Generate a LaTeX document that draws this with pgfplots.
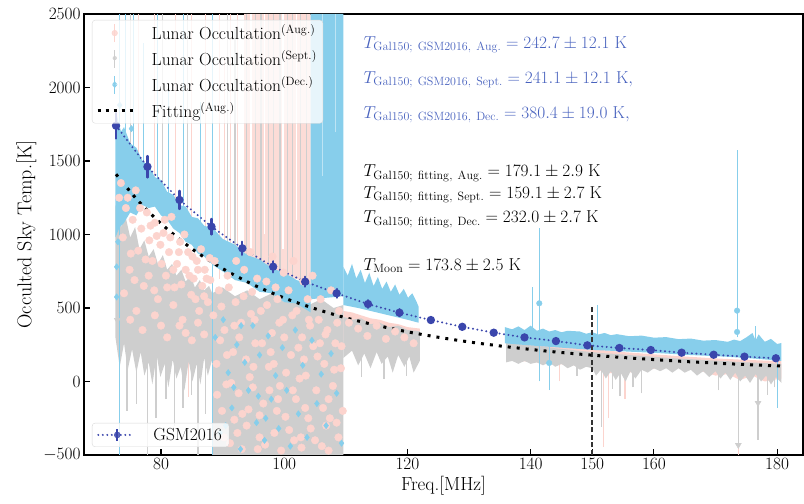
\documentclass[border=0pt]{standalone}
\usepackage{pgfplots}
\pgfplotsset{compat=1.18}
\definecolor{pinkc}{RGB}{252,212,206}
\definecolor{pinkl}{RGB}{252,220,215}
\definecolor{grayc}{RGB}{206,206,206}
\definecolor{bluec}{RGB}{135,206,235}
\definecolor{gsmc}{RGB}{58,70,172}
\definecolor{tblue}{RGB}{72,98,190}
\begin{document}
\begin{tikzpicture}
\begin{axis}[name=ax, scale only axis, width=719pt, height=441pt,
  xmin=67.5, xmax=184.2, ymin=-500, ymax=2500,
  xtick={80,100,120,140,150,160,180}, ytick={-500,0,500,1000,1500,2000,2500},
  /pgf/number format/1000 sep={},
  tick align=inside, xtick pos=bottom, ytick pos=left, major tick length=6pt,
  tick style={line width=1.1pt, black},
  axis line style={line width=1.1pt},
  tick label style={font=\fontsize{17}{20}\selectfont},
  xlabel={Freq.[MHz]}, ylabel={Occulted Sky Temp.[K]},
  xlabel style={font=\fontsize{19}{22}\selectfont},
  ylabel style={font=\fontsize{20}{23}\selectfont},
  unbounded coords=jump,
  legend style={at={(0,1)}, anchor=north west, xshift=8pt, yshift=-6pt,
    draw=black!15, fill=white, fill opacity=0.8, text opacity=1, rounded corners=3pt,
    font=\fontsize{17.5}{20}\selectfont, inner xsep=4pt, inner ysep=2.5pt, row sep=5pt},
  legend cell align=left,
]
% ---------- pink (Aug.) areas ----------
\addplot[fill=pinkc, draw=none, forget plot] coordinates {(109.6,480) (111,470) (112.5,450) (114,430) (115.5,420) (117,400) (118.5,390) (120,370) (122,360) (122,200) (120,210) (118,230) (116,220) (114,250) (112,240) (109.6,260)} -- cycle;
\addplot[fill=pinkc, draw=none, forget plot] coordinates {(136,290) (140,265) (145,240) (150,220) (155,200) (160,185) (165,170) (170,157) (175,147) (180.7,138) (180.7,20) (178,0) (176,40) (174,10) (172,50) (170,40) (167,80) (164,100) (161,90) (158,80) (155,50) (152,60) (150,100) (147,110) (144,120) (141,130) (138,140) (136,150)} -- cycle;
\addplot[fill=pinkl, draw=none, forget plot] coordinates {(93.5,800) (93.5,2500) (104.3,2500) (104.3,650) (102,700) (100,660) (98,720) (96,680) (94,760)} -- cycle;
\addplot[white, line width=1.2pt, forget plot] coordinates {(94.6,900) (94.6,2500) (94.6,nan) (96.8,1000) (96.8,2500) (96.8,nan) (99.8,900) (99.8,2500) (99.8,nan) (102.0,1100) (102.0,2500)};
\addplot[pinkc, line width=1.2pt, forget plot] coordinates {(76.4,1400) (76.4,2500) (76.4,nan) (78.9,1300) (78.9,2500) (78.9,nan) (82.3,1200) (82.3,2500) (82.3,nan) (85.0,1100) (85.0,2500) (85.0,nan) (87.2,1000) (87.2,2500) (87.2,nan) (89.5,700) (89.5,2500) (89.5,nan) (90.3,900) (90.3,2200) (90.3,nan) (91.3,800) (91.3,2500) (91.3,nan) (92.4,850) (92.4,2500) (92.4,nan) (84.4,-105) (84.4,400) (84.4,nan) (151.8,-443) (151.8,150) (151.8,nan) (152.6,-250) (152.6,120) (152.6,nan) (155.3,-120) (155.3,120) (155.3,nan) (173.7,-500) (173.7,0) (173.7,nan) (144.7,0) (144.7,150)};
% ---------- gray (Sept.) areas ----------
\addplot[fill=grayc, draw=none, forget plot] coordinates {(72.6,1200) (73.5,1050) (74.2,1130) (75,980) (75.8,1050) (76.5,900) (77.3,960) (78,850) (78.8,900) (79.5,800) (80.3,860) (81,760) (81.8,800) (82.5,720) (83.3,760) (84,680) (84.8,720) (85.5,640) (86.3,690) (87,620) (87.8,650) (88.3,600) (88.3,150) (87.6,40) (87,160) (86.4,-20) (85.8,120) (85.1,0) (84.5,140) (83.8,-60) (83.2,100) (82.5,20) (81.9,150) (81.2,-40) (80.6,120) (79.9,30) (79.3,180) (78.6,-20) (78,130) (77.3,40) (76.7,200) (76,60) (75.3,220) (74.6,80) (74,260) (73.3,100) (72.6,300)} -- cycle;
\addplot[fill=grayc, draw=none, forget plot] coordinates {(88.3,-500) (88.3,600) (90,640) (92,580) (94,620) (96,560) (98,600) (100,540) (102,580) (104,520) (106,560) (108,500) (109.6,520) (109.6,-500)} -- cycle;
\addplot[fill=grayc, draw=none, forget plot] coordinates {(109.6,440) (111,420) (112.5,430) (114,390) (115.5,400) (117,370) (118.5,380) (120,350) (121.5,345) (122,340) (122,140) (121,60) (120.3,170) (119.5,100) (118.5,180) (117.6,60) (116.8,170) (115.8,120) (115,200) (114,90) (113,190) (112,110) (111,210) (109.6,160)} -- cycle;
\addplot[fill=grayc, draw=none, forget plot] coordinates {(136,265) (138,255) (140,245) (142,238) (144,226) (146,218) (148,208) (150,200) (152,192) (154,187) (156,180) (158,174) (160,168) (162,162) (164,156) (166,152) (168,147) (170,142) (172,138) (174,132) (176,129) (178,125) (180.7,120) (180.7,-10) (179.8,30) (179,-20) (178.2,40) (177.4,0) (176.5,50) (175.6,-10) (174.8,40) (174,0) (173.2,60) (172.4,10) (171.6,60) (170.8,20) (170,70) (169,30) (168,70) (167,40) (166,80) (165,60) (164,90) (163,60) (162,90) (161,70) (160,90) (159,60) (158,80) (157,20) (156.2,70) (155.4,0) (154.6,60) (153.8,10) (153,70) (152.2,20) (151.4,80) (150.6,40) (150,90) (149,100) (148,80) (147,110) (146,90) (145,120) (144,100) (143,130) (142,110) (141,130) (140,120) (139,140) (138,120) (137,140) (136,130)} -- cycle;
\addplot[grayc, line width=1.4pt, forget plot] coordinates {(93.9,700) (93.9,2500) (93.9,nan) (95.3,650) (95.3,2500) (95.3,nan) (96.2,700) (96.2,2500) (96.2,nan) (97.4,650) (97.4,2500) (97.4,nan) (98.3,700) (98.3,2500) (98.3,nan) (99.3,650) (99.3,2500) (99.3,nan) (100.5,620) (100.5,2500) (100.5,nan) (101.3,650) (101.3,2500) (101.3,nan) (102.6,640) (102.6,2500) (102.6,nan) (103.6,600) (103.6,2500) (103.6,nan) (90.8,700) (90.8,2500) (90.8,nan) (92.0,750) (92.0,2400) (92.0,nan) (75.0,1500) (75.0,2500) (75.0,nan) (80.2,1300) (80.2,2500) (80.2,nan) (84.3,1100) (84.3,2500) (84.3,nan) (77.8,-500) (77.8,300) (77.8,nan) (86,-500) (86,200) (86,nan) (74.5,-200) (74.5,300) (74.5,nan) (76,-150) (76,250) (76,nan) (79.2,-250) (79.2,250) (79.2,nan) (80.8,-120) (80.8,250) (80.8,nan) (82.2,-300) (82.2,250) (82.2,nan) (83.6,-180) (83.6,250) (83.6,nan) (84.9,-90) (84.9,250) (84.9,nan) (87.2,-220) (87.2,250) (87.2,nan) (151.5,-307) (151.5,150) (151.5,nan) (153.3,-50) (153.3,150) (153.3,nan) (154.5,-100) (154.5,150) (154.5,nan) (156.6,-40) (156.6,130) (156.6,nan) (158,-80) (158,120) (158,nan) (170.5,-60) (170.5,100) (170.5,nan) (173.7,-432) (173.7,120) (173.7,nan) (176.9,-398) (176.9,120) (176.9,nan) (178.4,-90) (178.4,100) (178.4,nan) (179.6,-40) (179.6,100) (179.6,nan) (147.5,40) (147.5,150) (147.5,nan) (112.5,30) (112.5,200) (112.5,nan) (116.2,20) (116.2,200) (116.2,nan) (119.8,40) (119.8,200)};
\addplot[only marks, mark=triangle*, mark size=3.5pt, mark options={rotate=180}, grayc, forget plot] coordinates {(173.7,-432) (176.9,-146) (86.2,135) (72.9,418)};
% ---------- pink dots ----------
\addplot[only marks, mark=*, mark size=3.8pt, pinkc, forget plot] coordinates {(73.2,1250) (73.8,980) (74.3,1180) (74.9,760) (75.4,1100) (75.9,1300) (76.3,890) (76.8,1040) (77.2,650) (77.7,1150) (78.1,960) (78.6,820) (79.0,1080) (79.5,560) (79.9,930) (80.4,1010) (80.8,720) (81.3,880) (81.7,1120) (82.2,640) (82.6,800) (83.1,950) (83.5,420) (84.0,760) (84.4,880) (84.9,590) (85.3,700) (85.8,820) (86.2,480) (86.7,650) (87.1,760) (87.6,540) (88.0,690) (74.0,600) (76.0,480) (78.0,720) (80.0,380) (82.0,520) (84.0,330) (86.0,400)
(73.5,1350) (74.6,1250) (75.1,870) (75.7,690) (76.6,1180) (77.5,830) (78.3,1060) (78.9,620) (79.3,990) (80.1,800) (80.6,1100) (81.0,640) (81.5,980) (82.0,760) (82.9,880) (83.3,660) (83.8,1000) (84.6,720) (85.1,850) (85.6,560) (86.0,760) (86.5,900) (87.0,580) (87.4,700) (87.9,840) (75.0,420) (77.0,350) (79.0,450) (81.0,300) (83.0,380) (85.0,280) (87.0,320)
(88.5,450) (89.0,120) (89.4,620) (89.9,-200) (90.3,350) (90.8,720) (91.2,-420) (91.7,200) (92.1,540) (92.6,-80) (93.0,400) (93.5,760) (93.9,-300) (94.4,30) (94.8,610) (95.3,260) (95.7,-460) (96.2,480) (96.6,-150) (97.1,680) (97.5,100) (98.0,330) (98.4,-350) (98.9,560) (99.3,-30) (99.8,420) (100.2,-240) (100.7,620) (101.1,180) (101.6,-400) (102.0,480) (102.5,20) (102.9,300) (103.4,-180) (103.8,560) (104.3,-320) (104.7,240) (105.2,-60) (105.6,420) (106.1,-440) (106.5,120) (107.0,350) (107.4,-250) (107.9,-30) (108.3,260) (108.8,-380) (109.2,90) (109.5,-200)
(89.6,280) (90.6,-20) (91.9,380) (93.2,-220) (94.6,460) (96.0,-380) (97.8,200) (99.0,-120) (100.0,300) (101.4,-60) (102.7,-380) (104.0,420) (105.8,260) (107.2,-120) (108.6,400) (95.0,100) (98.6,640) (103.2,150) (106.8,-300) (92.4,-350)
(88.7,820) (89.1,-90) (89.8,510) (90.2,-380) (90.7,180) (91.0,640) (91.4,-10) (91.9,-260) (92.2,820) (92.7,300) (93.1,-460) (93.4,580) (93.8,150) (94.2,-190) (94.5,880) (94.9,-40) (95.2,420) (95.6,700) (96.0,-230) (96.4,260) (96.9,-430) (97.2,520) (97.6,-60) (98.1,850) (98.3,120) (98.8,-200) (99.2,400) (99.5,-470) (99.9,740) (100.3,60) (100.8,-330) (101.3,450) (101.5,820) (101.9,-120) (102.3,230) (102.8,-450) (103.1,680) (103.5,40) (103.9,-250) (104.2,380) (104.6,720) (105.0,-400) (105.4,170) (105.9,560) (106.3,-180) (106.7,320) (107.2,-470) (107.6,620) (108.1,80) (108.5,-280) (108.9,480) (109.3,240)
(110.5,400) (112,360) (113.5,310) (115,380) (116.5,290) (118,340) (119.5,300) (121,260)};
% ---------- blue (Dec.) areas ----------
\addplot[fill=bluec, draw=none, forget plot] coordinates {(72.6,1850) (73.5,1700) (74,1730) (75,1620) (76,1590) (77,1500) (78,1470) (79,1390) (80,1370) (81,1290) (82,1270) (83,1200) (84,1190) (85,1120) (86,1110) (87,1060) (88.5,1040) (90,970) (92,930) (94,860) (96,830) (98,770) (100,740) (102,690) (104.3,660) (104.3,470) (102,530) (100,540) (98,600) (96,610) (94,670) (92,690) (90,750) (88.5,790) (87,850) (86,870) (85,930) (84,950) (83,1010) (82,1040) (81,1100) (80,1130) (79,1190) (78,1180) (77,1200) (76,1130) (75,1150) (74,1080) (73.3,1050) (72.6,980)} -- cycle;
\addplot[fill=bluec, draw=none, forget plot] coordinates {(104.3,560) (104.3,2500) (109.6,2500) (109.6,580)} -- cycle;
\addplot[white!45!bluec, line width=0.5pt, forget plot] coordinates {(106.2,1400) (106.2,2500) (106.2,nan) (108.3,1700) (108.3,2500)};
\addplot[fill=bluec, draw=none, forget plot] coordinates {(109.6,780) (110.3,720) (111,800) (111.7,700) (112.4,760) (113.1,670) (113.8,740) (114.5,650) (115.2,710) (115.9,630) (116.6,680) (117.3,610) (118,660) (118.7,590) (119.4,630) (120.1,570) (120.8,600) (121.5,540) (121.8,510) (121.8,400) (120,420) (118,440) (116,460) (114,480) (112,500) (109.6,520)} -- cycle;
\addplot[fill=bluec, draw=none, forget plot] coordinates {(135.8,370) (137,355) (138,375) (139,350) (140,380) (141,345) (142,360) (143,340) (144,350) (145,335) (146,345) (148,340) (149,325) (150,335) (151,320) (152,330) (153,315) (154,322) (156,308) (158,312) (160,298) (162,302) (164,288) (166,292) (168,278) (170,282) (172,270) (173,285) (174,275) (175,300) (176,330) (176.5,280) (177,320) (178,270) (179,290) (180,255) (180.7,262) (180.7,140) (178,150) (175,160) (172,168) (170,172) (165,182) (160,195) (155,205) (150,215) (145,230) (140,245) (135.8,260)} -- cycle;
\addplot[bluec, line width=1.1pt, forget plot] coordinates {(73.3,-500) (73.3,2500) (73.3,nan) (88.4,-500) (88.4,2500) (88.4,nan) (74.2,1700) (74.2,2500) (74.2,nan) (75.6,1500) (75.6,2500) (75.6,nan) (77.1,1500) (77.1,2300) (77.1,nan) (79.4,1300) (79.4,2500) (79.4,nan) (81.2,1250) (81.2,2000) (81.2,nan) (83.7,1150) (83.7,2500) (83.7,nan) (86.4,1050) (86.4,1900) (86.4,nan) (141.4,0) (141.4,1044) (141.4,nan) (140.3,300) (140.3,645) (140.3,nan) (143,-58) (143,300) (143,nan) (150.8,250) (150.8,520) (150.8,nan) (173.5,300) (173.5,1574) (173.5,nan) (180,-180) (180,250) (180,nan) (176.5,250) (176.5,380)};
\addplot[only marks, mark=*, mark size=2.8pt, bluec, forget plot] coordinates {(141.4,532) (143,126) (173.5,482) (173.5,337)};
\addplot[only marks, mark=diamond*, mark size=3.2pt, bluec, forget plot] coordinates {(72.8,780) (72.8,575) (73.0,950) (74.0,1600) (73.3,1880) (75.2,1720)
(88.8,300) (89.6,-350) (90.1,420) (90.9,60) (91.5,-180) (92.3,250) (92.9,-460) (93.6,130) (94.2,-60) (94.9,380) (95.5,-280) (96.0,180) (96.8,-400) (97.4,310) (97.9,-120) (98.6,40) (99.1,-320) (99.7,230) (100.4,-60) (101.0,-440) (101.8,350) (102.3,-220) (103.0,110) (103.7,-380) (104.5,280) (105.3,-150) (106.0,50) (106.8,-300) (107.6,190) (108.5,-80) (109.3,-420) (90.5,-300) (91.8,-40) (93.0,380) (95.8,-100) (97.0,-250)};
% ---------- reference lines ----------
\addplot[black!80, line width=1.8pt, dash pattern=on 5pt off 2.5pt, forget plot] coordinates {(150,-500) (150,510)};
\addplot[black, line width=3pt, dash pattern=on 3pt off 6pt, smooth, forget plot] coordinates {(72.7,1410) (76,1243) (80,1074) (85,903) (90,768) (95,658) (100,568) (105,495) (110,433) (115,382) (120,338) (125,301) (130,269) (135,242) (140,218) (145,197) (150,179) (155,163) (160,149) (165,136) (170,125) (175,115) (180.7,105)};
\addplot[gsmc, line width=2.2pt, line cap=round, dash pattern=on 0pt off 4.5pt, mark=*, mark size=3pt, mark options={solid}, forget plot,
  error bars/.cd, y dir=both, y explicit, error mark=none, error bar style={line width=2.2pt, gsmc, solid}] coordinates {
(72.7,1740) +- (0,87) (77.8,1461) +- (0,73) (83.0,1235) +- (0,62) (88.2,1053) +- (0,53) (93.2,906) +- (0,45) (98.2,781) +- (0,39) (103.4,679) +- (0,34) (108.5,600) +- (0,30) (113.6,527) +- (0,26) (118.7,468) +- (0,23) (123.8,418) +- (0,21) (128.9,372) +- (0,19) (134.0,332) +- (0,17) (139.0,300) +- (0,15) (144.1,275) +- (0,14) (149.2,246) +- (0,12) (154.4,228) +- (0,11) (159.5,214) +- (0,11) (164.5,196) +- (0,10) (169.7,182) +- (0,9) (174.7,169) +- (0,8) (179.8,158) +- (0,8)};
% ---------- annotations ----------
\node[anchor=base west, text=tblue, font=\fontsize{17}{20}\selectfont] at (axis cs:112.3,2267) {$T_{\mathrm{Gal150;\ GSM2016,\ Aug.}} = 242.7 \pm 12.1\ \mathrm{K}$};
\node[anchor=base west, text=tblue, font=\fontsize{17}{20}\selectfont] at (axis cs:112.3,2029) {$T_{\mathrm{Gal150;\ GSM2016,\ Sept.}} = 241.1 \pm 12.1\ \mathrm{K},$};
\node[anchor=base west, text=tblue, font=\fontsize{17}{20}\selectfont] at (axis cs:112.3,1790) {$T_{\mathrm{Gal150;\ GSM2016,\ Dec.}} = 380.4 \pm 19.0\ \mathrm{K},$};
\node[anchor=base west, font=\fontsize{17}{20}\selectfont] at (axis cs:112.3,1393) {$T_{\mathrm{Gal150;\ fitting,\ Aug.}} = 179.1 \pm 2.9\ \mathrm{K}$};
\node[anchor=base west, font=\fontsize{17}{20}\selectfont] at (axis cs:112.3,1246) {$T_{\mathrm{Gal150;\ fitting,\ Sept.}} = 159.1 \pm 2.7\ \mathrm{K}$};
\node[anchor=base west, font=\fontsize{17}{20}\selectfont] at (axis cs:112.3,1080) {$T_{\mathrm{Gal150;\ fitting,\ Dec.}} = 232.0 \pm 2.7\ \mathrm{K}$};
\node[anchor=base west, font=\fontsize{17}{20}\selectfont] at (axis cs:112.3,758) {$T_{\mathrm{Moon}} = 173.8 \pm 2.5\ \mathrm{K}$};
% ---------- legend ----------
\addlegendimage{legend image code/.code={\path[draw=none,fill=none] (0pt,0pt) -- (52pt,0pt); \draw[pinkc, line width=1.2pt, solid] (17pt,-9pt) -- (17pt,9pt); \fill[pinkc] (17pt,0pt) circle (2.8pt);}}
\addlegendentry{Lunar Occultation$^{\mathrm{(Aug.)}}$}
\addlegendimage{legend image code/.code={\path[draw=none,fill=none] (0pt,0pt) -- (52pt,0pt); \draw[grayc, line width=1.2pt, solid] (17pt,-9pt) -- (17pt,9pt); \fill[grayc] (14pt,2.5pt) -- (20pt,2.5pt) -- (17pt,-2.5pt) -- cycle;}}
\addlegendentry{Lunar Occultation$^{\mathrm{(Sept.)}}$}
\addlegendimage{legend image code/.code={\path[draw=none,fill=none] (0pt,0pt) -- (52pt,0pt); \draw[bluec, line width=1.2pt, solid] (17pt,-9pt) -- (17pt,9pt); \fill[bluec] (17pt,3pt) -- (19.5pt,0pt) -- (17pt,-3pt) -- (14.5pt,0pt) -- cycle;}}
\addlegendentry{Lunar Occultation$^{\mathrm{(Dec.)}}$}
\addlegendimage{legend image code/.code={\path[draw=none,fill=none] (0pt,0pt) -- (52pt,0pt); \draw[black, line width=3pt, dash pattern=on 3pt off 5pt] (0pt,0pt) -- (37pt,0pt);}}
\addlegendentry{Fitting$^{\mathrm{(Aug.)}}$}
\end{axis}
\begin{axis}[scale only axis, width=719pt, height=441pt, xmin=67.5, xmax=184.2, ymin=-500, ymax=2500, hide axis,
  legend style={at={(0,0)}, anchor=south west, xshift=8pt, yshift=8pt,
    draw=black!15, fill=white, fill opacity=0.8, text opacity=1, rounded corners=3pt,
    font=\fontsize{17.5}{20}\selectfont, inner xsep=5pt, inner ysep=3pt},
  legend cell align=left]
\addlegendimage{legend image code/.code={\path[draw=none,fill=none] (0pt,0pt) -- (53pt,0pt); \draw[gsmc, line width=2.2pt, line cap=round, dash pattern=on 0pt off 4.5pt] (0pt,0pt) -- (36pt,0pt); \draw[gsmc, line width=2.2pt, solid] (19pt,-6pt) -- (19pt,6pt); \fill[gsmc] (19pt,0pt) circle (3pt);}}
\addlegendentry{GSM2016}
\end{axis}
\pgfresetboundingbox
\useasboundingbox ([shift={(-84pt,-49pt)}]ax.south west) rectangle ([shift={(1pt,14pt)}]ax.north east);
\end{tikzpicture}
\end{document}
